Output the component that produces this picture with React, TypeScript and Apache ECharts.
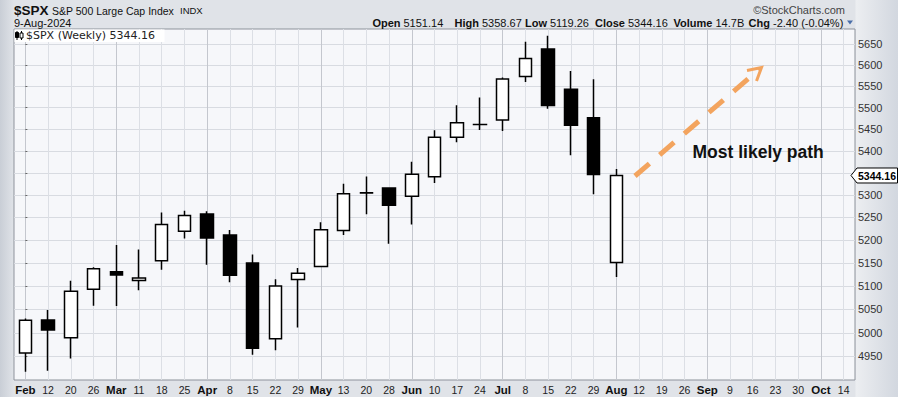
import React, { useEffect, useRef } from 'react';
import * as echarts from 'echarts';

// Weekly categories (Feb 5 2024 .. Oct 14 2024)
const weekDates = [
  '2024-02-05', '2024-02-12', '2024-02-20', '2024-02-26',
  '2024-03-04', '2024-03-11', '2024-03-18', '2024-03-25',
  '2024-04-01', '2024-04-08', '2024-04-15', '2024-04-22', '2024-04-29',
  '2024-05-06', '2024-05-13', '2024-05-20', '2024-05-28',
  '2024-06-03', '2024-06-10', '2024-06-17', '2024-06-24',
  '2024-07-01', '2024-07-08', '2024-07-15', '2024-07-22', '2024-07-29',
  '2024-08-05', '2024-08-12', '2024-08-19', '2024-08-26',
  '2024-09-03', '2024-09-09', '2024-09-16', '2024-09-23', '2024-09-30',
  '2024-10-07', '2024-10-14',
];
const weekLabels = [
  'Feb', '12', '20', '26',
  'Mar', '11', '18', '25',
  'Apr', '8', '15', '22', '29',
  'May', '13', '20', '28',
  'Jun', '10', '17', '24',
  'Jul', '8', '15', '22', '29',
  'Aug', '12', '19', '26',
  'Sep', '9', '16', '23', '30',
  'Oct', '14',
];

// Weekly OHLC of $SPX
const opens = [
  4957.19, 5026.83, 4989.32, 5093.0, 5130.99, 5111.96, 5154.77, 5219.52,
  5257.97, 5211.37, 5149.67, 4987.33, 5114.13, 5142.42, 5221.1, 5305.35,
  5315.91, 5297.15, 5341.22, 5431.11, 5460.73, 5471.08, 5572.75, 5638.16,
  5543.0, 5476.55, 5151.14,
];
const highs = [
  5030.06, 5048.39, 5111.06, 5140.33, 5189.26, 5179.14, 5261.1, 5264.85,
  5263.95, 5222.0, 5168.43, 5114.62, 5139.12, 5239.66, 5325.49, 5341.88,
  5315.91, 5375.08, 5447.25, 5505.53, 5523.64, 5570.33, 5655.56, 5669.67,
  5586.0, 5566.16, 5358.67,
];
const lows = [
  4918.09, 4920.31, 4946.0, 5057.29, 5056.82, 5091.0, 5135.0, 5203.42,
  5146.06, 5107.94, 4953.56, 4963.0, 5011.05, 5142.42, 5211.16, 5256.93,
  5191.68, 5234.32, 5327.0, 5420.0, 5447.87, 5446.0, 5560.0, 5497.04,
  5390.0, 5302.0, 5119.26,
];
const closes = [
  5026.61, 5005.57, 5088.8, 5137.08, 5123.69, 5117.09, 5234.18, 5254.35,
  5204.34, 5123.41, 4967.23, 5099.96, 5127.79, 5222.68, 5303.27, 5304.72,
  5277.51, 5346.99, 5431.6, 5464.62, 5460.48, 5567.19, 5615.35, 5505.0,
  5459.1, 5346.56, 5344.16,
];

// Grid levels; the 5350 label is hidden behind the last-price tag
const yTicks = [4950, 5000, 5050, 5100, 5150, 5200, 5250, 5300, 5350, 5400, 5450, 5500, 5550, 5600, 5650];
const yLabels = [4950, 5000, 5050, 5100, 5150, 5200, 5250, 5300, 5400, 5450, 5500, 5550, 5600, 5650];
const yMin = 4901;
const yMax = 5686;

const volumeText = '14.7B';
const changeText = '-2.40 (-0.04%)';

const isMonth = (s: string) => /^[A-Za-z]/.test(s);

export default function App() {
  const ref = useRef<HTMLDivElement>(null);

  useEffect(() => {
    document.body.style.margin = '0';
    if (!ref.current) return;
    const chart = echarts.init(ref.current, undefined, { renderer: 'svg' });

    const weekIdx = weekLabels.map((_, i) => i).filter((i) => !isMonth(weekLabels[i]));
    const monthIdx = weekLabels.map((_, i) => i).filter((i) => isMonth(weekLabels[i]));
    const last = closes.length - 1;

    const option: any = {
      animation: false,
      backgroundColor: 'transparent',
      grid: {
        left: 14,
        right: 43,
        top: 29,
        bottom: 17,
        show: true,
        backgroundColor: '#f6f7fa',
        borderColor: '#8d929b',
        borderWidth: 1,
      },
      xAxis: [
        {
          type: 'category',
          data: weekDates,
          boundaryGap: true,
          axisLine: { show: false },
          axisTick: { show: false },
          splitLine: { show: false },
          axisLabel: {
            interval: 0,
            margin: 4,
            hideOverlap: false,
            formatter: (_v: string, i: number) =>
              isMonth(weekLabels[i]) ? `{b|${weekLabels[i]}}` : `{n|${weekLabels[i]}}`,
            rich: {
              b: { fontFamily: 'Liberation Sans', fontWeight: 'bold', fontSize: 11.5, color: '#111' },
              n: { fontFamily: 'Liberation Sans', fontSize: 10.5, color: '#222' },
            },
          },
        },
        {
          type: 'value',
          min: -0.5,
          max: weekLabels.length - 0.5,
          axisLine: { show: false },
          axisLabel: { show: false },
          axisTick: { show: false, customValues: weekIdx },
          splitLine: { show: true, lineStyle: { color: '#dcdfe5', width: 1 } },
        },
        {
          type: 'value',
          min: -0.5,
          max: weekLabels.length - 0.5,
          axisLine: { show: false },
          axisLabel: { show: false },
          axisTick: { show: false, customValues: monthIdx },
          splitLine: { show: true, lineStyle: { color: '#c4c7ce', width: 1 } },
        },
      ],
      yAxis: {
        type: 'value',
        position: 'right',
        min: Math.log(yMin),
        max: Math.log(yMax),
        axisLine: { show: false },
        axisTick: {
          show: true,
          length: 2,
          customValues: yTicks.map((v) => Math.log(v)),
          lineStyle: { color: '#666' },
        },
        axisLabel: {
          customValues: yLabels.map((v) => Math.log(v)),
          formatter: (v: number) => String(Math.round(Math.exp(v))),
          color: '#333',
          fontSize: 11,
          fontFamily: 'Liberation Sans',
          margin: 3,
        },
        splitLine: { show: true, lineStyle: { color: '#d8dbe1', width: 1 } },
      },
      series: [
        {
          type: 'candlestick',
          xAxisIndex: 0,
          yAxisIndex: 0,
          barWidth: 13,
          data: opens.map((o, i) => [
            Math.log(o),
            Math.log(closes[i]),
            Math.log(lows[i]),
            Math.log(highs[i]),
          ]),
          itemStyle: {
            color: '#ffffff',
            color0: '#000000',
            borderColor: '#000000',
            borderColor0: '#000000',
            borderWidth: 1.5,
          },
        },
      ],
    };

    chart.setOption(option);

    const py = chart.convertToPixel({ yAxisIndex: 0 }, Math.log(closes[last])) as number;
    const txt = (x: number, y: number, text: string, font: string, fill: string, align = 'left') => ({
      type: 'text',
      x,
      y,
      silent: true,
      style: {
        text,
        font,
        fill,
        align,
        verticalAlign: 'middle',
        textAlign: align,
        textVerticalAlign: 'middle',
      },
    });
    const lbl = 'bold 11px "Liberation Sans"';
    const val = '11px "Liberation Sans"';
    const orange = '#f3a45e';
    const hy = 22.5;
    // quote fields: label right-aligned just before its value
    const quote: [string, string, number][] = [
      ['Open', opens[last].toFixed(2), 403.5],
      ['High', highs[last].toFixed(2), 482],
      ['Low', lows[last].toFixed(2), 550],
      ['Close', closes[last].toFixed(2), 628],
      ['Volume', volumeText, 715.5],
      ['Chg', changeText, 773],
    ];

    const graphic: any[] = [
      // header
      txt(14, 10, '$SPX', 'bold 13.5px "Liberation Sans"', '#111'),
      txt(52, 10.5, 'S&P 500 Large Cap Index', '10.5px "Liberation Sans"', '#111'),
      txt(180, 10.5, 'INDX', '9.5px "Liberation Sans"', '#111'),
      txt(14, 22.5, '9-Aug-2024', '11px "Liberation Sans"', '#111'),
      txt(845, 9.5, '©StockCharts.com', '11px "Liberation Sans"', '#444', 'right'),
      ...quote.flatMap(([l, v, x]) => [
        txt(x - 3, hy, l, lbl, '#111', 'right'),
        txt(x, hy, v, val, '#111'),
      ]),
      {
        type: 'polygon',
        silent: true,
        shape: { points: [[847, 20.5], [853, 20.5], [850, 24.5]] },
        style: { fill: '#4a6ea8' },
      },
      // legend
      {
        type: 'rect',
        silent: true,
        shape: { x: 14.5, y: 29.5, width: 150, height: 12.5 },
        style: { fill: '#ffffff' },
      },
      {
        type: 'line', silent: true,
        shape: { x1: 17, y1: 31, x2: 17, y2: 40 },
        style: { stroke: '#000', lineWidth: 1 },
      },
      {
        type: 'rect', silent: true,
        shape: { x: 15.5, y: 32.5, width: 3, height: 5 },
        style: { fill: '#000', stroke: '#000', lineWidth: 1 },
      },
      {
        type: 'line', silent: true,
        shape: { x1: 21.5, y1: 31, x2: 21.5, y2: 40 },
        style: { stroke: '#000', lineWidth: 1 },
      },
      {
        type: 'rect', silent: true,
        shape: { x: 20, y: 33, width: 3, height: 5 },
        style: { fill: '#fff', stroke: '#000', lineWidth: 1 },
      },
      txt(26, 35.5, `$SPX (Weekly) ${closes[last].toFixed(2)}`, '11px "DejaVu Sans"', '#222'),
      // annotation arrow
      {
        type: 'line',
        silent: true,
        shape: { x1: 635, y1: 176, x2: 759, y2: 69.5 },
        style: { stroke: orange, lineWidth: 5, lineDash: [19, 13.5] },
      },
      {
        type: 'polyline',
        silent: true,
        shape: { points: [[747, 70.5], [761.5, 67.5], [756.5, 81]] },
        style: { stroke: orange, lineWidth: 3, fill: null },
      },
      txt(692.5, 152, 'Most likely path', 'bold 17.5px "Liberation Sans"', '#111'),
      // last price tag
      {
        type: 'polygon',
        silent: true,
        shape: {
          points: [
            [851, py],
            [857, py - 7.5],
            [897.5, py - 7.5],
            [897.5, py + 7.5],
            [857, py + 7.5],
          ],
        },
        style: { fill: '#ffffff', stroke: '#000', lineWidth: 1 },
      },
      txt(877, py + 0.5, closes[last].toFixed(2), 'bold 10.5px "Liberation Sans"', '#000', 'center'),
    ];

    chart.setOption({ graphic });

    return () => chart.dispose();
  }, []);

  return (
    <div
      ref={ref}
      style={{
        width: 898,
        height: 397,
        background:
          'linear-gradient(to right, #c9ced6 0px, #e0e3e8 14px, #e0e3e8 855px, #eceef1 856px, #d2d7df 898px)',
      }}
    />
  );
}
